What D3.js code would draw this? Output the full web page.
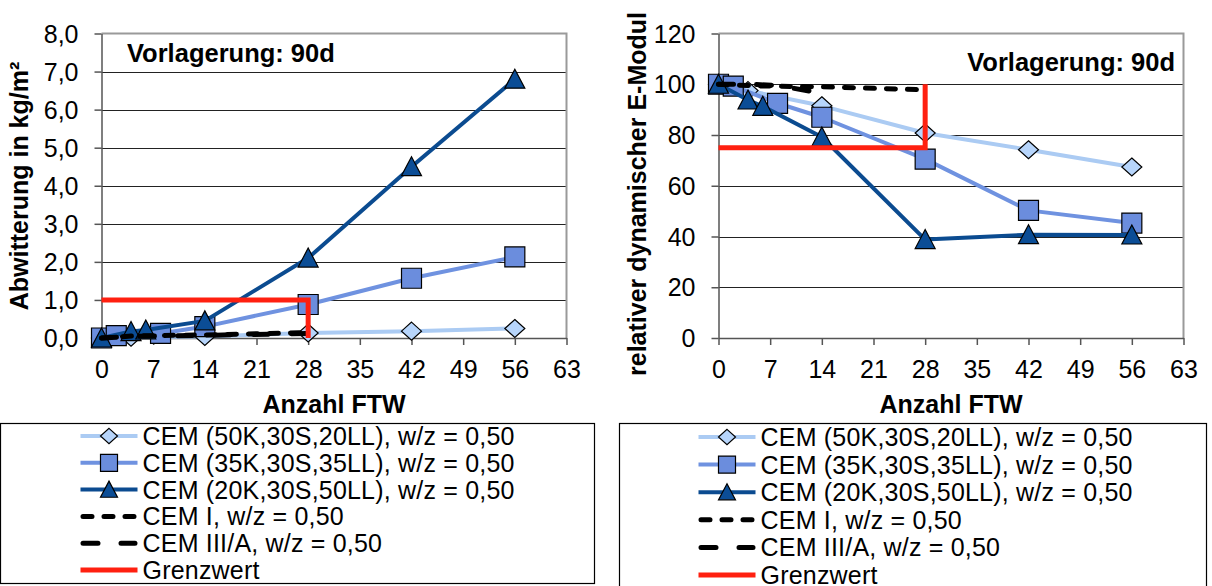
<!DOCTYPE html>
<html>
<head>
<meta charset="utf-8">
<script src="https://cdn.jsdelivr.net/npm/d3@7"></script>
<style>
    body { margin: 0; background: #fff; }
    svg { display: block; font-family: "Liberation Sans", Arial, sans-serif; }
    .axis .tick text { font-size: 25px; fill: #000; }
    .axis-title { font-size: 25px; font-weight: bold; fill: #000; }
    .legend text { font-size: 25px; letter-spacing: 0.2px; fill: #000; }
</style>
</head>
<body>
<svg id="chart" width="1212" height="586"></svg>
<script>
// ticks
const ticksX = [0, 7, 14, 21, 28, 35, 42, 49, 56, 63];
const ticksAbw = [0, 1, 2, 3, 4, 5, 6, 7, 8];
const ticksModul = [0, 20, 40, 60, 80, 100, 120];

const seriesNames = [
    "CEM (50K,30S,20LL), w/z = 0,50",
    "CEM (35K,30S,35LL), w/z = 0,50",
    "CEM (20K,30S,50LL), w/z = 0,50",
    "CEM I, w/z = 0,50",
    "CEM III/A, w/z = 0,50",
    "Grenzwert"
];

// left chart: Abwitterung in kg/m²
const abwX50K = [0, 4, 14, 28, 42, 56];
const abwY50K = [0.0, 0.02, 0.04, 0.13, 0.18, 0.25];
const abwX35K = [0, 2, 8, 14, 28, 42, 56];
const abwY35K = [0.0, 0.06, 0.12, 0.3, 0.88, 1.57, 2.13];
const abwX20K = [0, 4, 6, 14, 28, 42, 56];
const abwY20K = [0.0, 0.17, 0.21, 0.45, 2.1, 4.5, 6.8];
const abwXCemI = [0, 4, 6, 14, 28];
const abwYCemI = [0.0, 0.05, 0.06, 0.08, 0.14];
const abwXCemIII = [0, 4, 14, 28];
const abwYCemIII = [0.0, 0.04, 0.07, 0.12];
const abwXGrenz = [0, 28, 28];
const abwYGrenz = [1, 1, 0];

// right chart: relativer dynamischer E-Modul
const modX50K = [0, 4, 14, 28, 42, 56];
const modY50K = [100, 97.5, 91.5, 80.8, 74.2, 67.4];
const modX35K = [0, 2, 8, 14, 28, 42, 56];
const modY35K = [100, 99.3, 92.5, 87, 70.5, 50.3, 45.3];
const modX20K = [0, 4, 6, 14, 28, 42, 56];
const modY20K = [100, 93.8, 91.3, 79.2, 38.8, 40.7, 40.6];
const modXCemI = [0, 4, 6, 14, 28];
const modYCemI = [100, 99.5, 99.3, 99, 97.8];
const modXCemIII = [0, 4, 8, 14];
const modYCemIII = [100, 100, 99.5, 96.5];
const modXGrenz = [0, 28, 28];
const modYGrenz = [75, 75, 100];

// how each series looks (same order as seriesNames)
const styles = [
    {line: "#abcbf3", fill: "#b7d5fb", marker: "diamond", dash: null},
    {line: "#6f92e0", fill: "#6b8ddd", marker: "square", dash: null},
    {line: "#0b4b90", fill: "#0b4d96", marker: "triangle", dash: null},
    {line: "#000", marker: null, dash: "9,12"},
    {line: "#000", marker: null, dash: "15,23"},
    {line: "#ff2010", marker: null, dash: null}
];

const de = d3.formatLocale({decimal: ",", thousands: ".", grouping: [3], currency: ["", " €"]});

function markerPath(shape, s) {
    // s = half size
    if (shape === "square") return `M${-s},${-s}H${s}V${s}H${-s}Z`;
    if (shape === "diamond") return `M0,${-s * 0.9}L${s},0L0,${s * 0.9}L${-s},0Z`;
    if (shape === "triangle") return `M0,${-s}L${s},${s * 0.9}L${-s},${s * 0.9}Z`;
    return "";
}

const svg = d3.select("#chart");

function drawPanel(cfg) {
    const top = 33.5, bottom = 338, width = 465;
    const xScale = d3.scaleLinear().domain([0, 63]).range([cfg.left, cfg.left + width]);
    const yScale = d3.scaleLinear().domain([0, cfg.yMax]).range([bottom, top]);
    const g = svg.append("g");

    // gridlines
    g.append("g").selectAll("line")
        .data(cfg.yTicks.filter(d => d > 0 && d < cfg.yMax))
        .join("line")
        .attr("x1", xScale(0)).attr("x2", xScale(63))
        .attr("y1", d => Math.round(yScale(d)) + 0.5).attr("y2", d => Math.round(yScale(d)) + 0.5)
        .attr("stroke", "#222").attr("stroke-width", 1);

    // plot border top/right
    g.append("path")
        .attr("d", `M${xScale(0)},${top}H${xScale(63)}V${bottom}`)
        .attr("fill", "none").attr("stroke", "#9a9a9a").attr("stroke-width", 2);

    const xAxis = g.append("g")
        .attr("class", "axis")
        .attr("transform", `translate(0,${bottom})`)
        .call(d3.axisBottom(xScale).tickValues(ticksX).tickSize(7).tickSizeOuter(0).tickFormat(d3.format("d")));
    xAxis.selectAll(".tick text").attr("y", 22).attr("dy", "0.71em");

    const yAxis = g.append("g")
        .attr("class", "axis")
        .attr("transform", `translate(${cfg.left},0)`)
        .call(d3.axisLeft(yScale).tickValues(cfg.yTicks).tickSize(7).tickSizeOuter(0).tickFormat(cfg.yFormat));
    yAxis.selectAll(".tick text").attr("x", -23).attr("dy", "0.34em");
    g.selectAll(".axis .domain, .axis .tick line").attr("stroke", "#555").attr("stroke-width", 1.5);

    // series
    cfg.series.forEach((s, i) => {
        const st = styles[i];
        const pts = s.x.map((v, j) => [v, s.y[j]]);
        const line = d3.line().x(d => xScale(d[0])).y(d => yScale(d[1]));
        g.append("path")
            .datum(pts)
            .attr("d", line)
            .attr("fill", "none")
            .attr("stroke", st.line)
            .attr("stroke-width", st.dash ? 5 : (i === 5 ? 5 : 4))
            .attr("stroke-linecap", st.dash ? "round" : "butt")
            .attr("stroke-linejoin", i === 5 ? "miter" : "round")
            .attr("stroke-dasharray", st.dash);
        if (st.marker) {
            g.append("g").selectAll("path")
                .data(pts)
                .join("path")
                .attr("transform", d => `translate(${xScale(d[0])},${yScale(d[1])})`)
                .attr("d", markerPath(st.marker, 10))
                .attr("fill", st.fill)
                .attr("stroke", "#000")
                .attr("stroke-width", 1.2);
        }
    });

    // titles
    g.append("text")
        .attr("class", "axis-title")
        .attr("x", xScale(31.5)).attr("y", 413)
        .attr("text-anchor", "middle")
        .text("Anzahl FTW");
    g.append("text")
        .attr("class", "axis-title")
        .attr("transform", `translate(${cfg.yTitleX},${cfg.yTitleY}) rotate(-90)`)
        .attr("text-anchor", "middle")
        .text(cfg.yTitle);
    g.append("text")
        .attr("class", "axis-title")
        .attr("x", cfg.noteX).attr("y", cfg.noteY)
        .attr("text-anchor", cfg.noteAnchor)
        .style("font-size", "25.5px")
        .text("Vorlagerung: 90d");

    // legend
    const lg = svg.append("g").attr("class", "legend");
    lg.append("rect")
        .attr("x", cfg.legend.x).attr("y", cfg.legend.y)
        .attr("width", cfg.legend.w).attr("height", cfg.legend.h)
        .attr("fill", "#fff").attr("stroke", "#000").attr("stroke-width", 1.2);
    seriesNames.forEach((name, i) => {
        const st = styles[i];
        const cy = cfg.legend.row0 + i * cfg.legend.step;
        const x0 = cfg.legend.sx, x1 = cfg.legend.sx + 57;
        lg.append("line")
            .attr("x1", st.dash ? x0 + 2.5 : x0).attr("x2", st.dash ? x1 - 2.5 : x1)
            .attr("y1", cy).attr("y2", cy)
            .attr("stroke", st.line)
            .attr("stroke-width", st.dash || i === 5 ? 5 : 4)
            .attr("stroke-linecap", st.dash ? "round" : "butt")
            .attr("stroke-dasharray", st.dash);
        if (st.marker) {
            lg.append("path")
                .attr("transform", `translate(${(x0 + x1) / 2},${cy})`)
                .attr("d", markerPath(st.marker, 8.5))
                .attr("fill", st.fill).attr("stroke", "#000").attr("stroke-width", 1.2);
        }
        lg.append("text")
            .attr("x", x1 + 5).attr("y", cy).attr("dy", "0.36em")
            .text(name);
    });
}

svg.append("rect").attr("width", 1212).attr("height", 586).attr("fill", "#fff");

drawPanel({
    left: 101.5,
    yMax: 8,
    yTicks: ticksAbw,
    yFormat: de.format(".1f"),
    yTitle: "Abwitterung in kg/m²",
    yTitleX: 28, yTitleY: 186,
    noteX: 127, noteY: 62, noteAnchor: "start",
    series: [
        {x: abwX50K, y: abwY50K},
        {x: abwX35K, y: abwY35K},
        {x: abwX20K, y: abwY20K},
        {x: abwXCemI, y: abwYCemI},
        {x: abwXCemIII, y: abwYCemIII},
        {x: abwXGrenz, y: abwYGrenz}
    ],
    legend: {x: 0.5, y: 423.5, w: 594, h: 160, sx: 80.5, row0: 436, step: 26.8}
});

drawPanel({
    left: 718.5,
    yMax: 120,
    yTicks: ticksModul,
    yFormat: d3.format("d"),
    yTitle: "relativer dynamischer E-Modul",
    yTitleX: 646, yTitleY: 194,
    noteX: 1175, noteY: 71, noteAnchor: "end",
    series: [
        {x: modX50K, y: modY50K},
        {x: modX35K, y: modY35K},
        {x: modX20K, y: modY20K},
        {x: modXCemI, y: modYCemI},
        {x: modXCemIII, y: modYCemIII},
        {x: modXGrenz, y: modYGrenz}
    ],
    legend: {x: 619.5, y: 423.5, w: 587, h: 175, sx: 698.5, row0: 437, step: 27.6}
});
</script>
</body>
</html>
